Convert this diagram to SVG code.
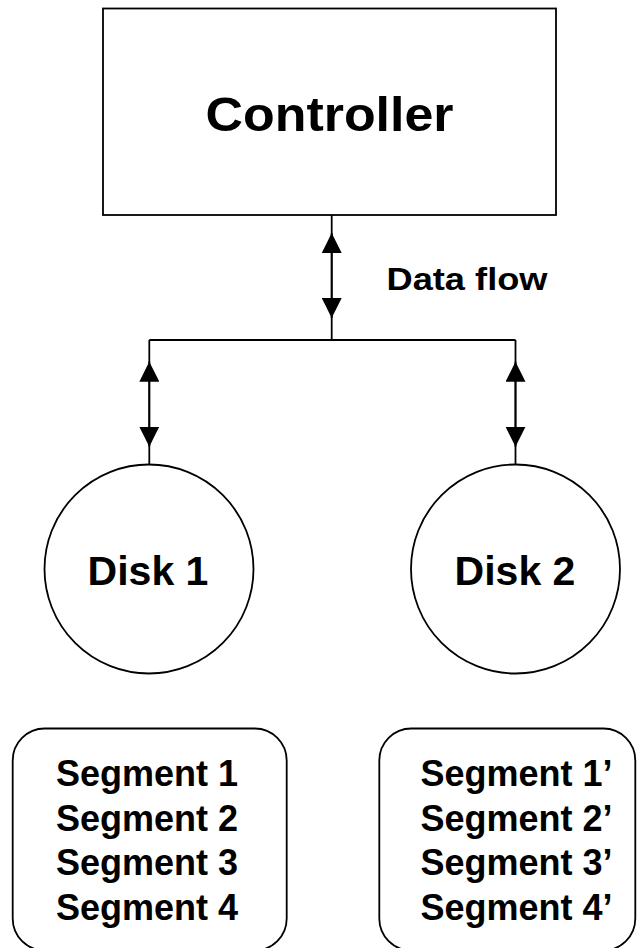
<svg xmlns="http://www.w3.org/2000/svg" width="637" height="948" viewBox="0 0 637 948">
  <style>
    .shape { fill: #ffffff; stroke: #000000; stroke-width: 1.8; }
    .wire { fill: none; stroke: #000000; stroke-width: 1.8; }
    .lbl { font-family: "Liberation Sans", Arial, sans-serif; font-weight: bold; fill: #000000; text-anchor: middle; }
  </style>
  <defs>
    <!-- filled triangular head, tip placed on the line end -->
    <marker id="head" viewBox="0 0 20 20" refX="20" refY="10" markerWidth="20" markerHeight="20" markerUnits="userSpaceOnUse" orient="auto-start-reverse">
      <path d="M0,0 L20,10 L0,20 Z" fill="#000000"/>
    </marker>
  </defs>

  <rect width="637" height="948" fill="#ffffff"/>

  <g id="controller">
    <rect class="shape" x="103" y="8.5" width="453" height="206.5"/>
    <text class="lbl" x="329.5" y="130.5" font-size="48" textLength="248" lengthAdjust="spacingAndGlyphs">Controller</text>
  </g>

  <g id="connectors">
    <!-- trunk from controller to the bus -->
    <line class="wire" x1="331.7" y1="215" x2="331.7" y2="340"/>
    <line class="wire" x1="331.7" y1="233" x2="331.7" y2="318" marker-start="url(#head)" marker-end="url(#head)"/>
    <!-- bus -->
    <line class="wire" x1="149.3" y1="340" x2="515.5" y2="340"/>
    <!-- branch to disk 1 -->
    <line class="wire" x1="149.3" y1="340" x2="149.3" y2="464.5"/>
    <line class="wire" x1="149.3" y1="361.7" x2="149.3" y2="446.7" marker-start="url(#head)" marker-end="url(#head)"/>
    <!-- branch to disk 2 -->
    <line class="wire" x1="515.5" y1="340" x2="515.5" y2="464.5"/>
    <line class="wire" x1="515.5" y1="361.7" x2="515.5" y2="446.7" marker-start="url(#head)" marker-end="url(#head)"/>
    <text class="lbl" x="467" y="290" font-size="31" textLength="161" lengthAdjust="spacingAndGlyphs">Data flow</text>
  </g>

  <g id="disk1">
    <circle class="shape" cx="149" cy="569" r="104.5"/>
    <text class="lbl" x="148" y="585" font-size="41">Disk 1</text>
  </g>

  <g id="disk2">
    <circle class="shape" cx="515.5" cy="569" r="104.5"/>
    <text class="lbl" x="515" y="585" font-size="41">Disk 2</text>
  </g>

  <g id="segments1">
    <rect class="shape" x="12.7" y="728.5" width="274" height="222" rx="32" ry="32"/>
    <text class="lbl" x="147" y="786" font-size="36">Segment 1</text>
    <text class="lbl" x="147" y="830.5" font-size="36">Segment 2</text>
    <text class="lbl" x="147" y="875" font-size="36">Segment 3</text>
    <text class="lbl" x="147" y="920" font-size="36">Segment 4</text>
  </g>

  <g id="segments2">
    <rect class="shape" x="379.3" y="728.5" width="256" height="222" rx="32" ry="32"/>
    <text class="lbl" x="516.5" y="786" font-size="36">Segment 1’</text>
    <text class="lbl" x="516.5" y="830.5" font-size="36">Segment 2’</text>
    <text class="lbl" x="516.5" y="875" font-size="36">Segment 3’</text>
    <text class="lbl" x="516.5" y="920" font-size="36">Segment 4’</text>
  </g>
</svg>
